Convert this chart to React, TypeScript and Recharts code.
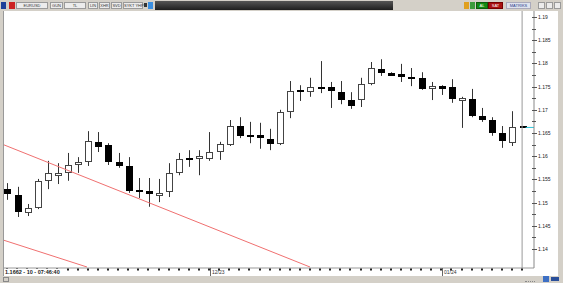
import { ComposedChart, Bar, XAxis, YAxis, ReferenceLine } from "recharts";

// EURUSD daily candles
const OPEN = [
  1.1529, 1.1516, 1.1478, 1.1488, 1.1547, 1.1559, 1.1564, 1.1583, 1.1587, 1.1631,
  1.1624, 1.1587, 1.1579, 1.1525, 1.1525, 1.1514, 1.1523, 1.1564, 1.1594, 1.1596,
  1.1594, 1.1609, 1.1624, 1.1665, 1.1644, 1.1646, 1.1637, 1.1626, 1.1695, 1.1741,
  1.1738, 1.1749, 1.1749, 1.1738, 1.1721, 1.1721, 1.1756, 1.1788, 1.1779, 1.1777,
  1.1769, 1.1769, 1.1745, 1.1751, 1.1749, 1.1721, 1.1723, 1.1687, 1.1678, 1.165,
  1.1628, 1.1664,
];
const HIGH = [
  1.1542, 1.1534, 1.1497, 1.1551, 1.159, 1.1585, 1.1607, 1.1598, 1.1654, 1.1652,
  1.1628, 1.1607, 1.1598, 1.1553, 1.1553, 1.1551, 1.1585, 1.1607, 1.1613, 1.1613,
  1.1652, 1.1631, 1.1678, 1.1684, 1.1674, 1.1672, 1.1659, 1.17, 1.1762, 1.1753,
  1.1769, 1.1805, 1.176, 1.1762, 1.1738, 1.1769, 1.1803, 1.1809, 1.1781, 1.1799,
  1.179, 1.1781, 1.176, 1.1753, 1.1766, 1.1728, 1.1745, 1.1704, 1.1684, 1.1665,
  1.1697, 1.1664,
];
const LOW = [
  1.1506, 1.1469, 1.1471, 1.1486, 1.1529, 1.154, 1.1547, 1.1564, 1.1579, 1.1609,
  1.1581, 1.1575, 1.1521, 1.151, 1.1491, 1.1501, 1.1512, 1.1559, 1.1577, 1.1559,
  1.159, 1.1592, 1.1622, 1.1639, 1.1628, 1.1616, 1.1613, 1.1624, 1.1682, 1.1719,
  1.1728, 1.1736, 1.1704, 1.1712, 1.1702, 1.1706, 1.1753, 1.1773, 1.1773, 1.176,
  1.1751, 1.1743, 1.1721, 1.1732, 1.1715, 1.1661, 1.1684, 1.1674, 1.1644, 1.1618,
  1.1622, 1.1662,
];
const CLOSE = [
  1.1519, 1.148, 1.1488, 1.1547, 1.1564, 1.1564, 1.1581, 1.1587, 1.1633, 1.162,
  1.1587, 1.1579, 1.1525, 1.1524, 1.1519, 1.1521, 1.1564, 1.1594, 1.1593, 1.16,
  1.1609, 1.1626, 1.1665, 1.1644, 1.1643, 1.1639, 1.1626, 1.1695, 1.1741, 1.174,
  1.1749, 1.1748, 1.1741, 1.1721, 1.1708, 1.1756, 1.179, 1.1779, 1.1775, 1.1773,
  1.1768, 1.1745, 1.1751, 1.1747, 1.1723, 1.1725, 1.1687, 1.1678, 1.165, 1.1633,
  1.1663, 1.1662,
];

const DATE_TICK_INDEX = [20, 43];
const DATE_TICK_LABELS = ["12/23", "01/24"];

const Y_TICKS = [
  1.14, 1.1425, 1.145, 1.1475, 1.15, 1.1525, 1.155, 1.1575, 1.16, 1.1625, 1.165,
  1.1675, 1.17, 1.1725, 1.175, 1.1775, 1.18, 1.1825, 1.185, 1.1875, 1.19,
];

// channel lines drawn on the chart (index, price)
const TREND_START_X = [-1, -1];
const TREND_START_Y = [1.16305, 1.14237];
const TREND_END_X = [30.0, 7.92];
const TREND_END_Y = [1.13612, 1.13612];

const LAST_PRICE = 1.1662;
const LAST_INDEX = 51;
const STATUS_TEXT = "1.1662 - 10 - 07:46:40";

const FONT = "'Liberation Sans', Arial, sans-serif";
const FRAME = "#d4d0c8";

const data = OPEN.map((open, i) => ({
  idx: i,
  open,
  high: HIGH[i],
  low: LOW[i],
  close: CLOSE[i],
  range: [LOW[i], HIGH[i]],
}));

function Candle(props: any) {
  const { x, y, width, height, payload } = props;
  if (x == null || !payload) return null;
  const { open, close, high, low } = payload;
  const cx = Math.round(x + width / 2);
  const k = height / (high - low || 1);
  const py = (v: number) => y + (high - v) * k;
  const up = close >= open;
  let top = Math.round(py(Math.max(open, close)));
  let bot = Math.round(py(Math.min(open, close)));

  let body;
  if (!up && bot - top < 2) {
    const m = Math.round((top + bot) / 2);
    body = <rect x={cx - 3} y={m - 1} width={7} height={2} fill="#000" />;
  } else {
    if (bot - top < 3) bot = top + 3;
    body = (
      <rect
        x={cx - 2.5}
        y={top + 0.5}
        width={6}
        height={bot - top - 1}
        fill={up ? "#fff" : "#000"}
        stroke={up ? "#444" : "#000"}
        strokeWidth={1}
      />
    );
  }

  return (
    <g>
      <line x1={cx + 0.5} x2={cx + 0.5} y1={y} y2={y + height} stroke="#333" strokeWidth={1} />
      {body}
    </g>
  );
}

function YTick(props: any) {
  const { x, y, payload } = props;
  const v = payload.value as number;
  const major = Math.round(v * 10000) % 50 === 0;
  const yy = Math.round(y) + 0.5;
  return (
    <g>
      <line x1={x - 2} x2={x + (major ? 3 : 2)} y1={yy} y2={yy} stroke="#555" />
      {major && (
        <text x={x + 4} y={y + 2} fontSize={5} fill="#222" fontFamily={FONT}>
          {String(Number(v.toFixed(4)))}
        </text>
      )}
    </g>
  );
}

function XTick(props: any) {
  const { x, y, payload } = props;
  const i = payload.value as number;
  const k = DATE_TICK_INDEX.indexOf(i);
  const px = Math.round(x);
  return (
    <g>
      <rect x={px - 1} y={y + 0.5} width={2} height={2} fill="#222" />
      {k >= 0 && (
        <>
          <line x1={px + 1.5} x2={px + 1.5} y1={y} y2={y + 8} stroke="#666" />
          <text x={px + 3} y={y + 6} fontSize={5} fill="#333" fontFamily={FONT}>
            {DATE_TICK_LABELS[k]}
          </text>
        </>
      )}
    </g>
  );
}

function Box({ left, width, label, bg = "#ececec", color = "#333", border = "#9a9a9a" }: any) {
  return (
    <div
      style={{
        position: "absolute",
        left,
        top: 2,
        width,
        height: 7,
        background: bg,
        border: `1px solid ${border}`,
        boxSizing: "border-box",
        color,
        fontSize: 4,
        lineHeight: "5px",
        textAlign: "center",
        fontFamily: FONT,
        whiteSpace: "nowrap",
      }}
    >
      {label}
    </div>
  );
}

function Toolbar() {
  return (
    <div style={{ position: "absolute", left: 0, top: 0, width: 563, height: 11, background: FRAME }}>
      <div style={{ position: "absolute", left: 1, top: 2, width: 5, height: 7, background: "#1c3f9a" }} />
      <div style={{ position: "absolute", left: 9, top: 2, width: 6, height: 7, background: "#c22" }} />
      <Box left={16} width={32} label="EURUSD" />
      <Box left={50} width={13} label="GUN" />
      <Box left={64} width={22} label="TL" />
      <Box left={88} width={10} label="LIN" />
      <Box left={99} width={11} label="XHR" />
      <Box left={111} width={11} label="SVD" />
      <Box left={123} width={20} label="SYKT YHP" />
      <div style={{ position: "absolute", left: 144, top: 3, width: 3, height: 4, background: "#333" }} />
      <div style={{ position: "absolute", left: 148, top: 2, width: 5, height: 7, background: "#3a8ee0" }} />
      <div
        style={{
          position: "absolute",
          left: 155,
          top: 1,
          width: 238,
          height: 9,
          background: "linear-gradient(#555, #1e1e1e)",
        }}
      />
      <div style={{ position: "absolute", left: 464, top: 2, width: 5, height: 7, background: "#e0a020" }} />
      <div style={{ position: "absolute", left: 470, top: 2, width: 5, height: 7, background: "#3c9c3c" }} />
      <Box left={476} width={12} label="AL" bg="#138a13" color="#fff" border="#0d5c0d" />
      <Box left={488} width={15} label="SAT" bg="#a81010" color="#fff" border="#700" />
      <Box left={506} width={25} label="MATRIKS" bg="#dfe3ee" color="#2b3f8a" border="#aab" />
      <Box left={538} width={7} label="" />
      <Box left={546} width={7} label="" />
      <Box left={554} width={7} label="" />
    </div>
  );
}

export default function App() {
  return (
    <div
      style={{
        position: "absolute",
        left: 0,
        top: 0,
        width: 563,
        height: 283,
        background: "#fff",
        overflow: "hidden",
      }}
    >
      <ComposedChart
        width={563}
        height={276}
        data={data}
        margin={{ top: 11, right: 0, bottom: 0, left: 3 }}
      >
        <XAxis
          dataKey="idx"
          type="number"
          domain={[-0.396, 52.178]}
          allowDataOverflow
          ticks={data.map((d) => d.idx)}
          interval={0}
          height={8}
          tickSize={0}
          tickMargin={0}
          tickLine={false}
          axisLine={{ stroke: "#999" }}
          tick={<XTick />}
        />
        <YAxis
          orientation="right"
          type="number"
          domain={[1.135905, 1.191293]}
          allowDataOverflow
          ticks={Y_TICKS}
          interval={0}
          width={29}
          tickSize={0}
          tickMargin={0}
          tickLine={false}
          axisLine={{ stroke: "#888" }}
          tick={<YTick />}
        />
        <ReferenceLine x={LAST_INDEX} stroke="#999" ifOverflow="hidden" />
        {TREND_START_X.map((sx, i) => (
          <ReferenceLine
            key={i}
            segment={[
              { x: sx, y: TREND_START_Y[i] },
              { x: TREND_END_X[i], y: TREND_END_Y[i] },
            ]}
            stroke="#f07070"
            strokeWidth={1}
            ifOverflow="hidden"
          />
        ))}
        <Bar
          dataKey="range"
          barSize={7}
          isAnimationActive={false}
          shape={(p: any) => <Candle {...p} />}
        />
        <ReferenceLine
          segment={[
            { x: LAST_INDEX + 0.35, y: LAST_PRICE },
            { x: 52.178, y: LAST_PRICE },
          ]}
          stroke="#2cc4d8"
          ifOverflow="visible"
        />
      </ComposedChart>

      <div
        style={{
          position: "absolute",
          left: 3,
          top: 269,
          height: 6,
          padding: "0 2px",
          background: "#fff",
          fontFamily: FONT,
          fontWeight: "bold",
          fontSize: 5.5,
          lineHeight: "6px",
          color: "#222",
          whiteSpace: "nowrap",
        }}
      >
        {STATUS_TEXT}
      </div>

      <Toolbar />
      <div style={{ position: "absolute", left: 0, top: 11, width: 3, height: 265, background: FRAME, borderRight: "1px solid #999" }} />
      <div style={{ position: "absolute", left: 558, top: 11, width: 5, height: 265, background: FRAME }} />
      <div style={{ position: "absolute", left: 0, top: 276, width: 563, height: 7, background: FRAME }}>
        <div style={{ position: "absolute", left: 3, top: 1, width: 6, height: 5, border: "1px solid #888", boxSizing: "border-box" }} />
        <div style={{ position: "absolute", left: 525, top: 2, width: 10, height: 3, borderBottom: "1px dotted #888" }} />
        <div style={{ position: "absolute", left: 543, top: 0, width: 6, height: 6, background: "#3d6fc4" }} />
        <div style={{ position: "absolute", left: 551, top: 1, width: 8, height: 4, background: "#2a4f9a" }} />
      </div>
    </div>
  );
}
